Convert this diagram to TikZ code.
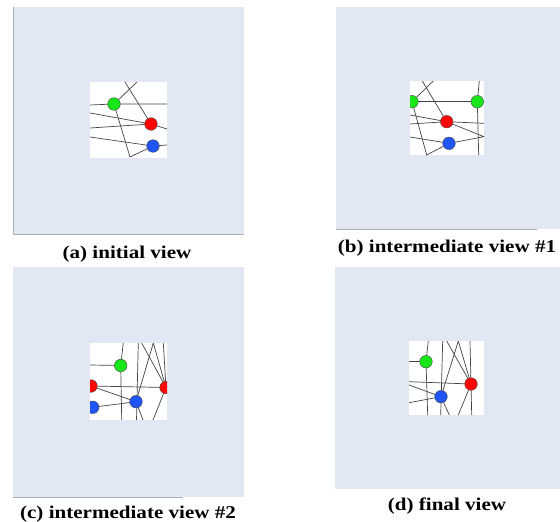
\documentclass[tikz,border=0pt]{standalone}
\usepackage{fontspec}
\setmainfont{Liberation Serif}
\definecolor{panelbg}{HTML}{E1E8F3}
\definecolor{panelln}{HTML}{A9AFB8}
\definecolor{edgec}{HTML}{444444}
\definecolor{ngreen}{HTML}{19E619}
\definecolor{nred}{HTML}{FF0505}
\definecolor{nblue}{HTML}{1F55F5}
\newcommand{\capbox}[1]{\scalebox{1.17}[1]{#1}}
\tikzset{
  panel/.style={fill=panelbg, draw=none},
  border/.style={draw=panelln, line width=0.8pt},
  whitesq/.style={fill=white, draw=none},
  edge/.style={draw=edgec, line width=0.7pt},
  vtx/.style={circle, draw=black!70, line width=0.4pt, minimum size=12.6pt, inner sep=0pt},
  gv/.style={vtx, fill=ngreen},
  rv/.style={vtx, fill=nred},
  bv/.style={vtx, fill=nblue},
  caption/.style={font=\bfseries\fontsize{18}{20}\selectfont, inner sep=0pt, anchor=base}
}
\begin{document}
\begin{tikzpicture}[x=1pt, y=-1pt]
\useasboundingbox (0,0) rectangle (560,522);
% ---------- panel backgrounds ----------
\fill[panel] (13,7) rectangle (244,234);
\draw[border] (13,7) -- (13,234) -- (244,234);
\fill[panel] (336,7) rectangle (560,229);
\draw[border] (336,229) -- (537,229);
\fill[panel] (13,267) rectangle (244,497);
\draw[border] (13,497) -- (183,497);
\fill[panel] (335,267) rectangle (560,489);
% ---------- captions ----------
\node[caption] (capa) at (127,258) {\capbox{(a) initial view}};
\node[caption] (capb) at (447,252) {\capbox{(b) intermediate view \#1}};
\node[caption] (capc) at (128,518) {\capbox{(c) intermediate view \#2}};
\node[caption] (capd) at (447,510) {\capbox{(d) final view}};
% ---------- panel (a) ----------
\fill[whitesq] (90,82) rectangle (167,158);
\begin{scope}
\clip (90,82) rectangle (167,158);
\coordinate (a1) at (90,105);
\coordinate (a2) at (167,104);
\coordinate (a3) at (137,82);
\coordinate (a4) at (125,82);
\coordinate (a5) at (167,129);
\coordinate (a6) at (90,113);
\coordinate (a7) at (90,128);
\coordinate (a8) at (90,137);
\coordinate (a9) at (167,145);
\coordinate (a10) at (130,157);
\coordinate (pga) at (114,104);
\coordinate (pra) at (151,124);
\coordinate (pba) at (153,146);
\draw[edge] (a1) -- (pga) -- (a2);
\draw[edge] (pga) -- (a3);
\draw[edge] (a4) -- (pra) -- (a5);
\draw[edge] (a6) -- (pra);
\draw[edge] (a7) -- (pra);
\draw[edge] (a8) -- (pba) -- (a9);
\draw[edge] (pga) -- (a10) -- (pba);
\node[gv] (ga) at (pga) {};
\node[rv] (ra) at (pra) {};
\node[bv] (ba) at (pba) {};
\end{scope}
% ---------- panel (b) ----------
\fill[whitesq] (410,81) rectangle (484,155);
\begin{scope}
\clip (410,81) rectangle (484,155);
\coordinate (b1) at (433.3,81);
\coordinate (b2) at (422.3,81);
\coordinate (b3) at (484,123.3);
\coordinate (b4) at (484,136.7);
\coordinate (b5) at (410,115);
\coordinate (b6) at (410,124);
\coordinate (b7) at (410,137);
\coordinate (b8) at (426.7,155);
\coordinate (b9) at (479.3,81);
\coordinate (b10) at (478.7,155);
\coordinate (pgb1) at (412,101.7);
\coordinate (pgb2) at (477.3,101.7);
\coordinate (prb) at (446.7,121.7);
\coordinate (pbb) at (449,143.3);
\draw[edge] (pgb1) -- (pgb2);
\draw[edge] (pgb1) -- (b1);
\draw[edge] (b2) -- (prb) -- (b3);
\draw[edge] (prb) -- (b4) -- (pbb);
\draw[edge] (b5) -- (prb);
\draw[edge] (b6) -- (prb);
\draw[edge] (b7) -- (pbb);
\draw[edge] (pgb1) -- (b8) -- (pbb);
\draw[edge] (b9) -- (pgb2) -- (b10);
\node[gv] (gb1) at (pgb1) {};
\node[gv] (gb2) at (pgb2) {};
\node[rv] (rb) at (prb) {};
\node[bv] (bb) at (pbb) {};
\end{scope}
% ---------- panel (c) ----------
\fill[whitesq] (90,343) rectangle (167,420);
\begin{scope}
\clip (90,343) rectangle (167,420);
\coordinate (c1) at (90,365);
\coordinate (c2) at (123.3,343);
\coordinate (c3) at (121.7,420);
\coordinate (c4) at (138.3,343);
\coordinate (c5) at (136.5,420);
\coordinate (c6) at (141.7,343);
\coordinate (c7) at (153.3,343);
\coordinate (c8) at (163.3,343);
\coordinate (c9) at (153,420);
\coordinate (c10) at (143,420);
\coordinate (pgc) at (120.7,365.5);
\coordinate (prc1) at (91,386);
\coordinate (prc2) at (166,387.5);
\coordinate (pbc1) at (92.7,407.3);
\coordinate (pbc2) at (136,401.7);
\draw[edge] (c1) -- (pgc);
\draw[edge] (c2) -- (pgc) -- (c3);
\draw[edge] (prc1) -- (prc2);
\draw[edge] (prc1) -- (pbc2);
\draw[edge] (pbc1) -- (pbc2);
\draw[edge] (c4) -- (c5);
\draw[edge] (c6) -- (prc2);
\draw[edge] (pbc2) -- (c7) -- (prc2);
\draw[edge] (c8) -- (prc2) -- (c9);
\draw[edge] (pbc2) -- (c10);
\node[gv] (gc) at (pgc) {};
\node[rv] (rc1) at (prc1) {};
\node[rv] (rc2) at (prc2) {};
\node[bv] (bc1) at (pbc1) {};
\node[bv] (bc2) at (pbc2) {};
\end{scope}
% ---------- panel (d) ----------
\fill[whitesq] (409,341) rectangle (484,415);
\begin{scope}
\clip (409,341) rectangle (484,415);
\coordinate (d1) at (409,361.7);
\coordinate (d2) at (428.3,341);
\coordinate (d3) at (427.7,415);
\coordinate (d4) at (409,381.7);
\coordinate (d5) at (409,385);
\coordinate (d6) at (409,402.7);
\coordinate (d7) at (442.7,341);
\coordinate (d8) at (440.7,415);
\coordinate (d9) at (446.7,341);
\coordinate (d10) at (458.3,341);
\coordinate (d11) at (470,341);
\coordinate (d12) at (471.7,415);
\coordinate (d13) at (458.3,415);
\coordinate (d14) at (449.3,415);
\coordinate (pgd) at (426,361.7);
\coordinate (prd) at (471,384);
\coordinate (pbd) at (441,396.7);
\draw[edge] (d1) -- (pgd);
\draw[edge] (d2) -- (pgd) -- (d3);
\draw[edge] (d4) -- (prd);
\draw[edge] (d5) -- (pbd);
\draw[edge] (d6) -- (pbd);
\draw[edge] (d7) -- (d8);
\draw[edge] (d9) -- (prd);
\draw[edge] (pbd) -- (d10) -- (prd);
\draw[edge] (d11) -- (prd) -- (d12);
\draw[edge] (prd) -- (d13);
\draw[edge] (pbd) -- (d14);
\node[gv] (gd) at (pgd) {};
\node[rv] (rd) at (prd) {};
\node[bv] (bd) at (pbd) {};
\end{scope}
\end{tikzpicture}
\end{document}
